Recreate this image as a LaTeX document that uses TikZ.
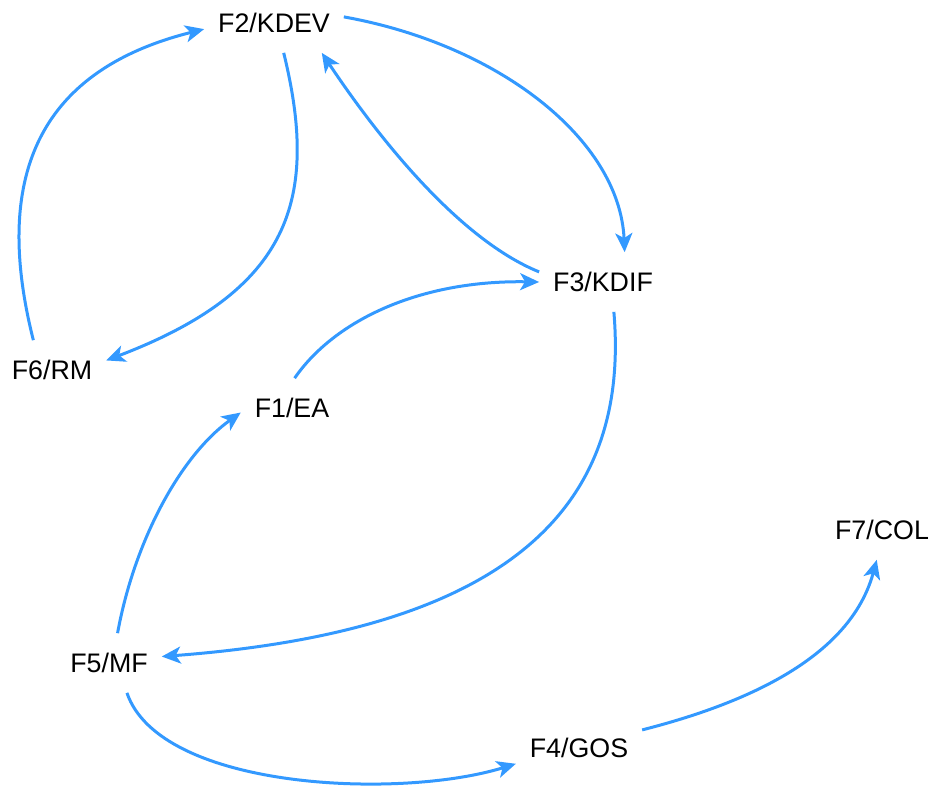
\documentclass[tikz,border=0pt]{standalone}
\usepackage{fontspec}
\setmainfont{Liberation Sans}
\usetikzlibrary{arrows.meta}
\definecolor{flowblue}{HTML}{3399FF}

\begin{document}
\begin{tikzpicture}[
    x=1pt, y=-1pt,
    >={Stealth[length=19pt,width=17pt,inset=5pt]},
    factor/.style={
        inner xsep=14pt, inner ysep=20pt, outer sep=0pt,
        font=\fontsize{26.8}{32}\selectfont
    },
    arr/.style={->, line width=3pt, color=flowblue}
]
    \useasboundingbox (0,0) rectangle (933,787);

    \node[factor] (f2) at (274,23)  {F2/KDEV};
    \node[factor] (f3) at (603,282) {F3/KDIF};
    \node[factor] (f6) at (52,370)  {F6/RM};
    \node[factor] (f1) at (292,408) {F1/EA};
    \node[factor] (f5) at (109,663) {F5/MF};
    \node[factor] (f4) at (579,748) {F4/GOS};
    \node[factor] (f7) at (882,530) {F7/COL};

    % loop between F2 and F6
    \draw[arr] (f6.122) .. controls +(-43,-170) and +(-160,40) .. (f2.185);
    \draw[arr] (f2.288) .. controls +(36,147) and +(184,-70) .. (f6.10);

    % loop between F2 and F3
    \draw[arr] (f2.5) .. controls +(156,28) and +(-5,-112) .. (f3.54);
    \draw[arr] (f3.171) .. controls +(-79,-32) and +(58,87) .. (f2.328);

    \draw[arr] (f1.85) .. controls +(40,-58) and +(-119,-2) .. (f3.180);
    \draw[arr] (f3.290) .. controls +(16,188) and +(358,-27) .. (f5.7);
    \draw[arr] (f5.74) .. controls +(17,-93) and +(-60,43) .. (f1.185);

    % lower chain
    \draw[arr] (f5.301) .. controls +(33,97) and +(-116,36) .. (f4.194);
    \draw[arr] (f4.16) .. controls +(98,-25) and +(-27,100) .. (f7.260);
\end{tikzpicture}
\end{document}
